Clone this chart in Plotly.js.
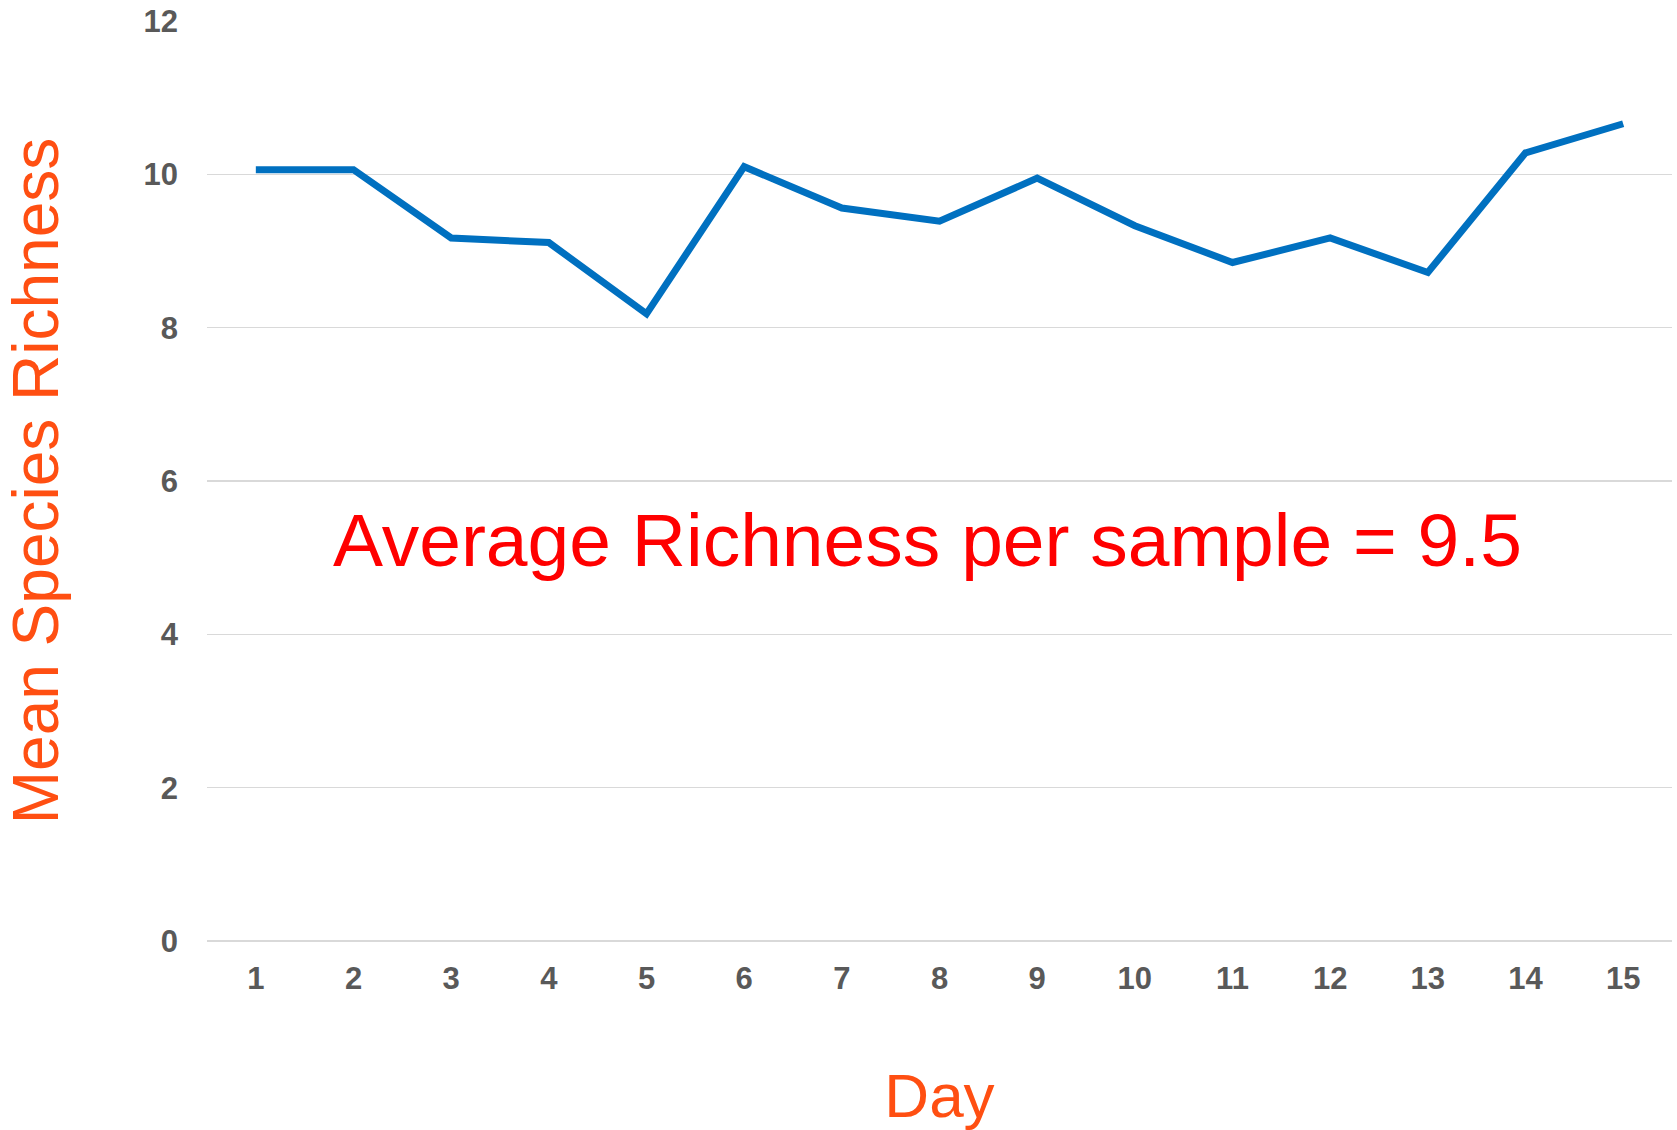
<!DOCTYPE html>
<html>
<head>
<meta charset="utf-8">
<script src="https://cdn.plot.ly/plotly-3.0.1.min.js"></script>
<style>
  html, body { margin: 0; padding: 0; background: #ffffff; }
  #chart { width: 1677px; height: 1130px; }
</style>
</head>
<body>
<div id="chart"></div>
<script>
// Data
const days = [1, 2, 3, 4, 5, 6, 7, 8, 9, 10, 11, 12, 13, 14, 15];
const meanRichness = [10.06, 10.06, 9.17, 9.11, 8.18, 10.10, 9.56, 9.39, 9.95, 9.33, 8.85, 9.17, 8.72, 10.28, 10.66];
const yTicks = [0, 2, 4, 6, 8, 10, 12];
const annotationText = "Average Richness per sample = 9.5";
const xTitle = "Day";
const yTitle = "Mean Species Richness";

const FONT = '"Liberation Sans", Arial, sans-serif';

const trace = {
  x: days,
  y: meanRichness,
  type: 'scatter',
  mode: 'lines',
  line: { color: '#0070C0', width: 7, shape: 'linear' },
  hoverinfo: 'x+y'
};

const layout = {
  width: 1677,
  height: 1130,
  margin: { l: 207, r: 5, t: 21, b: 189, pad: 0 },
  paper_bgcolor: '#ffffff',
  plot_bgcolor: '#ffffff',
  showlegend: false,
  font: { family: FONT, color: '#595959' },
  xaxis: {
    type: 'linear',
    range: [0.5, 15.5],
    tickmode: 'array',
    tickvals: days,
    ticktext: days.map(String),
    showgrid: false,
    zeroline: false,
    showline: false,
    ticks: '',
    ticklabelstandoff: 16,
    tickfont: { family: FONT, size: 31, color: '#595959', weight: 'bold' },
    title: {
      text: xTitle,
      font: { family: FONT, size: 62, color: '#FF4F12' },
      standoff: 78
    },
    fixedrange: true
  },
  yaxis: {
    range: [0, 12],
    tickmode: 'array',
    tickvals: yTicks,
    ticktext: yTicks.map(String),
    showgrid: true,
    gridcolor: '#D9D9D9',
    gridwidth: 1.5,
    zeroline: true,
    zerolinecolor: '#D9D9D9',
    zerolinewidth: 1.5,
    showline: false,
    ticks: '',
    ticklabelstandoff: 28,
    tickfont: { family: FONT, size: 31, color: '#595959', weight: 'bold' },
    title: {
      text: yTitle,
      font: { family: FONT, size: 64, color: '#FF4F12' },
      standoff: 70
    },
    fixedrange: true
  },
  annotations: [{
    text: annotationText,
    xref: 'paper',
    yref: 'y',
    x: 0.4915,
    y: 5.23,
    xanchor: 'center',
    yanchor: 'middle',
    showarrow: false,
    font: { family: FONT, size: 75, color: '#FF0000' }
  }]
};

Plotly.newPlot('chart', [trace], layout, { displayModeBar: false, staticPlot: true });
</script>
</body>
</html>
